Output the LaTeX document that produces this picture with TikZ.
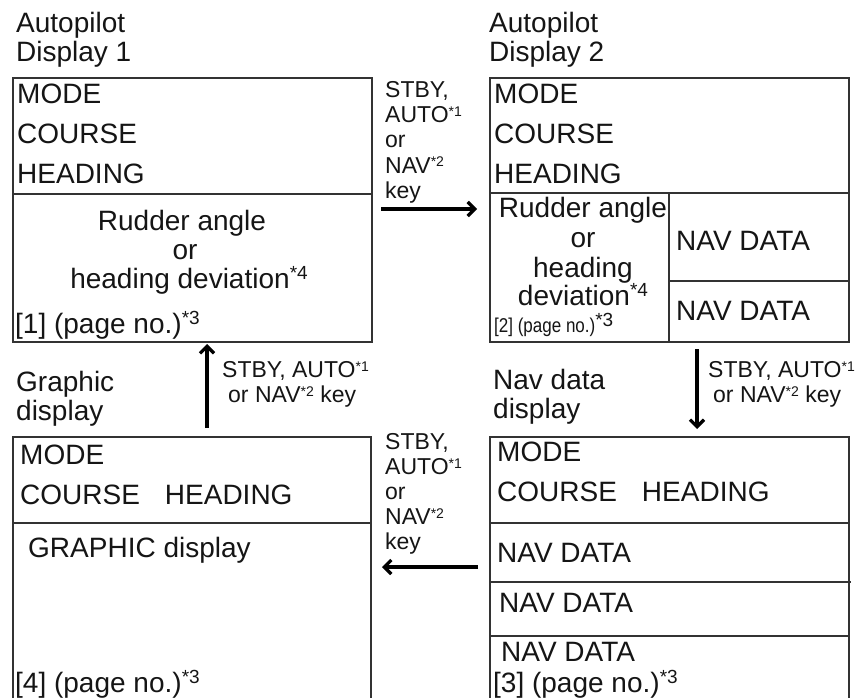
\documentclass[tikz,border=0pt]{standalone}
\usepackage{fontspec}
\setmainfont{Liberation Sans}
\usepackage{graphicx, xcolor}
\usetikzlibrary{arrows.meta}

\definecolor{inkgray}{HTML}{151515}
\definecolor{framegray}{HTML}{333333}

% small key notes (*1, *2) and larger ones (*3, *4)
\newcommand{\keynote}[1]{\raisebox{6pt}{\fontsize{14}{14}\selectfont *#1}}
\newcommand{\boxnote}[1]{\raisebox{9pt}{\fontsize{19}{19}\selectfont *#1}}

\tikzset{
  frame/.style={draw=framegray, line width=1.3pt},
  txt/.style={anchor=base west, inner sep=0pt, text=inkgray, font=\fontsize{28}{28}\selectfont},
  ctxt/.style={txt, anchor=base},
  lbl/.style={anchor=base west, inner sep=0pt, text=inkgray, font=\fontsize{23}{23}\selectfont},
  keyarrow/.style={line width=3.2pt, -{Straight Barb[length=7pt,width=14pt]}}
}

\begin{document}
\begin{tikzpicture}[x=1pt, y=-1pt]
	\useasboundingbox (0,0) rectangle (862,698);

	% titles
	\node[txt] (t1a) at (16,33) {Autopilot};
	\node[txt] (t1b) at (16,62) {Display 1};
	\node[txt] (t2a) at (489,33) {Autopilot};
	\node[txt] (t2b) at (489,62) {Display 2};
	\node[txt] (t4a) at (16,391) {Graphic};
	\node[txt] (t4b) at (16,420) {display};
	\node[txt] (t3a) at (493,389) {Nav data};
	\node[txt] (t3b) at (493,418) {display};

	% autopilot display 1
	\draw[frame] (13,78) rectangle (372,342);
	\draw[frame] (13,194) -- (372,194);
	\node[txt] (m1) at (17,104) {MODE};
	\node[txt] (c1) at (17,144) {COURSE};
	\node[txt] (h1) at (17,183) {HEADING};
	\node[ctxt] (r1a) at (182,230) {Rudder angle};
	\node[ctxt] (r1b) at (185,259) {or};
	\node[ctxt] (r1c) at (189,288) {heading deviation\boxnote{4}};
	\node[txt] (p1) at (15,333) {[1] (page no.)\boxnote{3}};

	% autopilot display 2
	\draw[frame] (490,78) rectangle (849,342);
	\draw[frame] (490,193) -- (849,193);
	\draw[frame] (669,193) -- (669,342);
	\draw[frame] (669,281) -- (849,281);
	\node[txt] (m2) at (494,104) {MODE};
	\node[txt] (c2) at (494,144) {COURSE};
	\node[txt] (h2) at (494,183) {HEADING};
	\begin{scope}[every node/.append style={font=\fontsize{27}{27}\selectfont}]
	\node[ctxt] (r2a) at (583,217) {Rudder angle};
	\node[ctxt] (r2b) at (583,247) {or};
	\node[ctxt] (r2c) at (583,277) {heading};
	\node[ctxt] (r2d) at (583,305) {deviation\boxnote{4}};
	\end{scope}
	\node[txt] (p2) at (494,332) {\scalebox{0.85}[1]{\fontsize{20}{20}\selectfont [2] (page no.)}\raisebox{6pt}{\fontsize{19}{19}\selectfont *3}};
	\node[txt] (n2a) at (676,250) {NAV DATA};
	\node[txt] (n2b) at (676,320) {NAV DATA};

	% nav data display
	\draw[frame] (490,698) -- (490,437) -- (849,437) -- (849,698);
	\draw[frame] (490,523) -- (849,523);
	\draw[frame] (490,582) -- (851,582);
	\draw[frame] (490,636) -- (849,636);
	\node[txt] (m3) at (497,461) {MODE};
	\node[txt] (c3) at (497,501) {COURSE\hspace{25pt}HEADING};
	\node[txt] (n3a) at (497,562) {NAV DATA};
	\node[txt] (n3b) at (499,612) {NAV DATA};
	\node[txt] (n3c) at (501,661) {NAV DATA};
	\node[txt] (p3) at (493,692) {[3] (page no.)\boxnote{3}};

	% graphic display
	\draw[frame] (13,698) -- (13,437) -- (371,437) -- (371,698);
	\draw[frame] (13,523) -- (371,523);
	\node[txt] (m4) at (20,464) {MODE};
	\node[txt] (c4) at (20,504) {COURSE\hspace{25pt}HEADING};
	\node[txt] (g4) at (28,557) {GRAPHIC display};
	\node[txt] (p4) at (15,692) {[4] (page no.)\boxnote{3}};

	% key labels
	\foreach \y/\s [count=\i] in {98/{STBY,}, 123/{AUTO\keynote{1}}, 148/or, 173/{NAV\keynote{2}}, 198/key}{
		\node[lbl] (kr\i) at (385,\y) {\s};
		\node[lbl] (kl\i) at (385,\y+351) {\s};
	}
	\node[lbl] (ku1) at (222,377) {STBY, AUTO\keynote{1}};
	\node[lbl] (ku2) at (228,402) {or NAV\keynote{2} key};
	\node[lbl] (kd1) at (708,377) {STBY, AUTO\keynote{1}};
	\node[lbl] (kd2) at (713,402) {or NAV\keynote{2} key};

	% arrows
	\coordinate (ra) at (381,209);
	\coordinate (rb) at (477,209);
	\coordinate (da) at (697,349);
	\coordinate (db) at (697,429);
	\coordinate (la) at (478,567);
	\coordinate (lb) at (382,567);
	\coordinate (ua) at (207,428);
	\coordinate (ub) at (207,344);
	\draw[keyarrow] (ra) -- (rb);
	\draw[keyarrow] (da) -- (db);
	\draw[keyarrow] (la) -- (lb);
	\draw[keyarrow] (ua) -- (ub);
\end{tikzpicture}
\end{document}
